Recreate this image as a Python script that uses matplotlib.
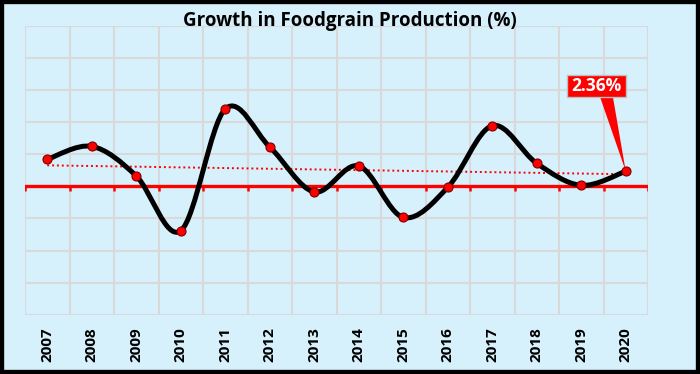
import matplotlib
matplotlib.use("Agg")
import matplotlib.pyplot as plt
import numpy as np
from matplotlib.path import Path
from matplotlib.patches import PathPatch, Rectangle, Polygon

years = ["2007", "2008", "2009", "2010", "2011", "2012", "2013",
         "2014", "2015", "2016", "2017", "2018", "2019", "2020"]
growth = [4.21, 6.24, 1.62, -6.91, 12.07, 6.14, -0.87,
          3.18, -4.83, -0.16, 9.46, 3.59, 0.16, 2.36]
last_label = "2.36%"
title = "Growth in Foodgrain Production (%)"

BG = "#D6F0FC"
FONT = ["Open Sans", "DejaVu Sans"]

fig = plt.figure(figsize=(7.0, 3.74), dpi=100)
fig.patch.set_facecolor(BG)
ax = fig.add_axes([25/700, 1 - 314.7/374, 623/700, (314.7 - 26)/374])
ax.set_facecolor(BG)

n = len(years)
x = np.arange(n)
y = np.array(growth, dtype=float)

ax.set_xlim(-0.5, n - 0.5)
ax.set_ylim(-20, 25)

# grid
for gx in np.arange(-0.5, n, 1.0):
    ax.axvline(gx, color="#D9D9D9", lw=1.5, zorder=1)
for gy in np.arange(-20, 26, 5):
    if gy != 0:
        ax.axhline(gy, color="#D9D9D9", lw=1.5, zorder=1)

for s in ax.spines.values():
    s.set_visible(False)

# zero line with category ticks
ax.axhline(0, color="#FF0000", lw=2.4, zorder=2)
ax.vlines(np.arange(-0.5, n, 1.0), -0.75, 0, color="#FF0000", lw=1.8, zorder=2)

# trend line
coef = np.polyfit(x, y, 1)
ax.plot(x, np.polyval(coef, x), color="#FF0000", lw=1.4, ls=(0, (1, 1.5)), zorder=3)

# smooth line (Catmull-Rom as Bezier)
pts = np.column_stack([x, y])
verts = [tuple(pts[0])]
codes = [Path.MOVETO]
for i in range(n - 1):
    p0 = pts[i - 1] if i > 0 else pts[i]
    p1 = pts[i]
    p2 = pts[i + 1]
    p3 = pts[i + 2] if i + 2 < n else pts[i + 1]
    c1 = p1 + (p2 - p0) / 6.0
    c2 = p2 - (p3 - p1) / 6.0
    verts += [tuple(c1), tuple(c2), tuple(p2)]
    codes += [Path.CURVE4] * 3
ax.add_patch(PathPatch(Path(verts, codes), facecolor="none", edgecolor="black",
                       lw=3.6, zorder=4, capstyle="round", joinstyle="round"))
ax.plot(x, y, ls="none", marker="o", ms=6.5, mfc="#FF0000", mec="#7A0000",
        mew=0.8, zorder=5)

# callout for last value
bx0, bx1, by0, by1 = 11.67, 13.0, 13.94, 17.42
tip = (x[-1], y[-1])
ax.add_patch(Polygon([(12.42, by0 + 0.05), (12.71, by0 + 0.05), tip],
                     closed=True, facecolor="#FF0000", edgecolor="none", zorder=6))
ax.add_patch(Rectangle((bx0, by0), bx1 - bx0, by1 - by0, facecolor="#FF0000",
                       edgecolor="#BFBFBF", lw=1.0, zorder=7))
ax.text((bx0 + bx1) / 2, (by0 + by1) / 2, last_label, color="white",
        fontsize=12.5, fontweight="bold", family=FONT, ha="center", va="center",
        zorder=8)

ax.set_yticks([])
ax.set_xticks(x)
ax.set_xticklabels(years, rotation=90, fontsize=11, fontweight="bold", family=FONT)
ax.tick_params(axis="x", length=0, pad=9)

fig.text(0.5, 1 - 26/374, title, ha="center", va="baseline",
         fontsize=13.5, fontweight="bold", family=FONT)

fig.patches.append(Rectangle((0, 0), 1, 1, transform=fig.transFigure,
                             facecolor="none", edgecolor="black", lw=6,
                             zorder=10))

fig.savefig("out.png", dpi=100, facecolor=BG)
